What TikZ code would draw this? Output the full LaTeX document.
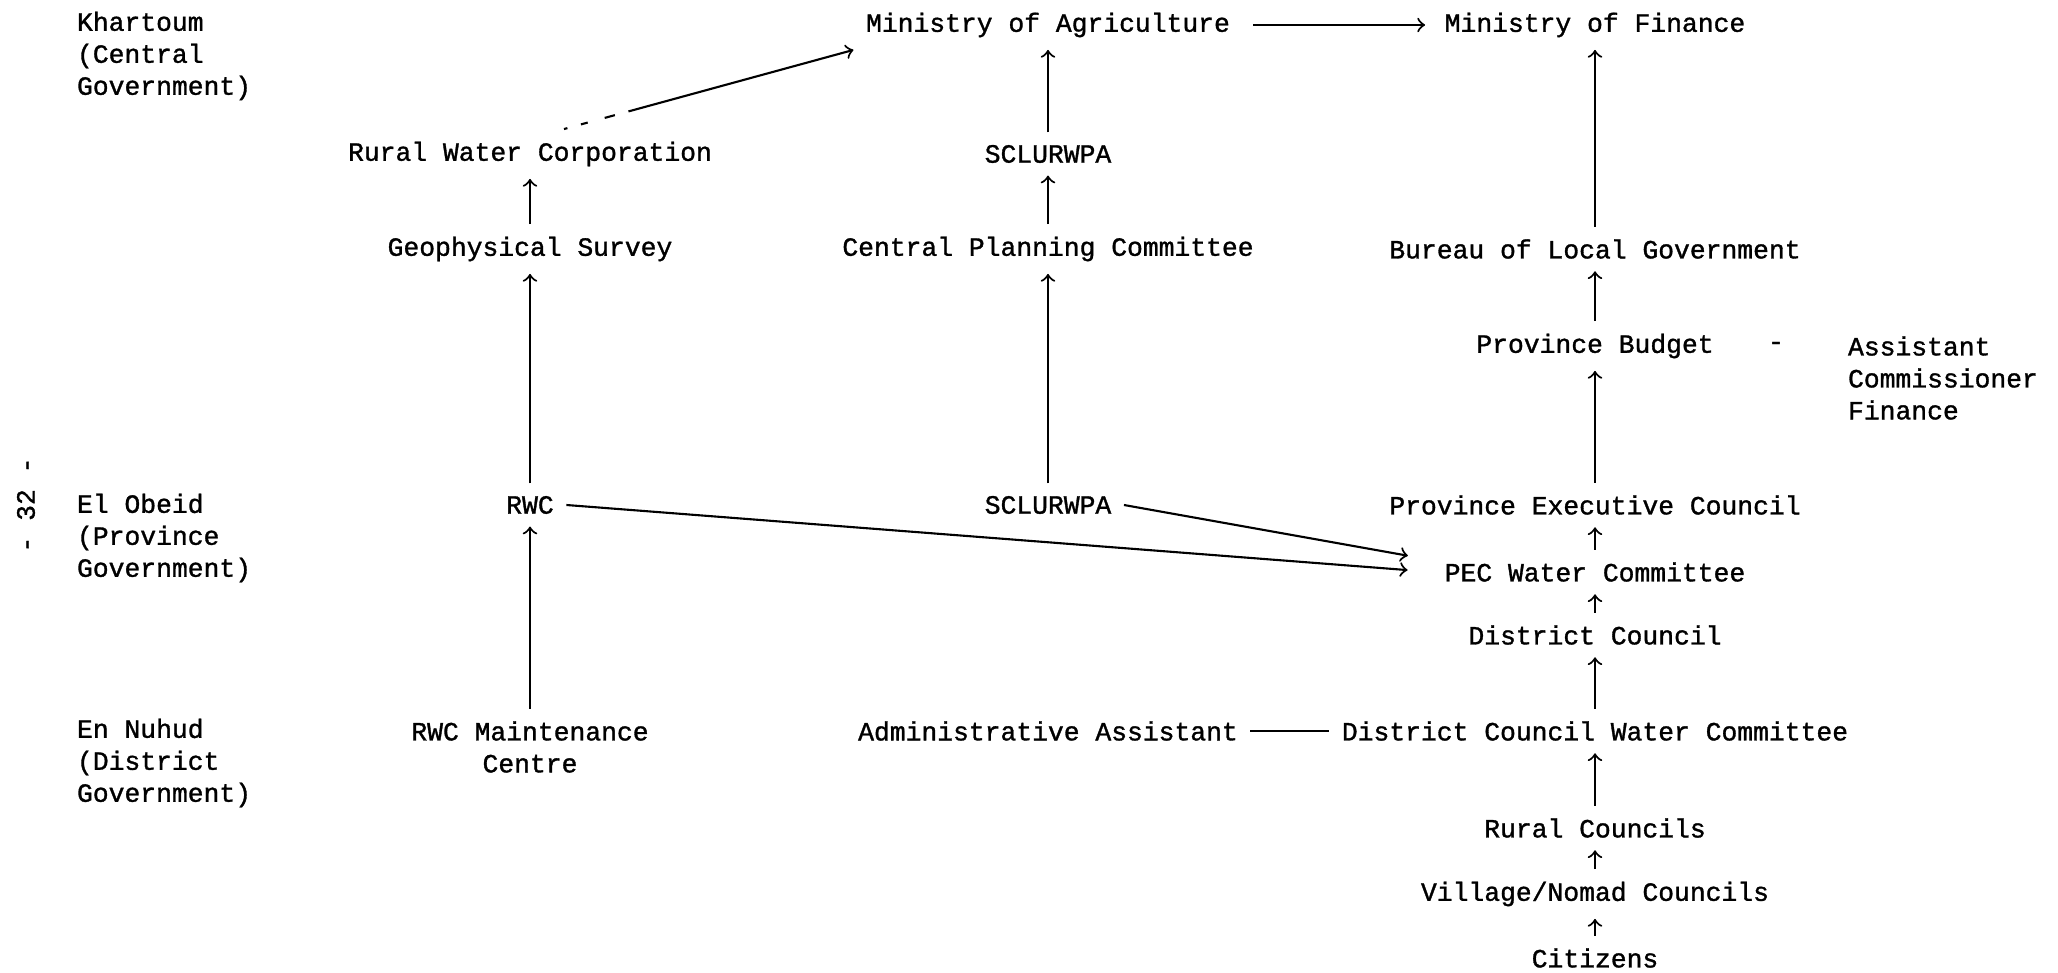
\documentclass[tikz,border=0pt]{standalone}
\usepackage{fontspec}
\setmonofont[FakeBold=1.2]{Liberation Mono}
\usetikzlibrary{arrows}

\begin{document}
\begin{tikzpicture} [font=\ttfamily\fontsize{7.5}{9.1}\selectfont, line width=0.6pt, inner sep=3.3pt]
 \useasboundingbox (0,0) rectangle (20.58,9.73);
 \node (pagenum) at (0.26,4.68) [rotate=90] {- 32 -};
 \node (khartoum) at (0.76,9.17) [anchor=west, align=left, inner sep=0pt] {Khartoum\\(Central\\Government)};
 \node (elobeid) at (0.76,4.35) [anchor=west, align=left, inner sep=0pt] {El Obeid\\(Province\\Government)};
 \node (ennuhud) at (0.76,2.10) [anchor=west, align=left, inner sep=0pt] {En Nuhud\\(District\\Government)};
 \node (magri) at (10.48,9.48) {Ministry of Agriculture};
 \node (mfin) at (15.95,9.48) {Ministry of Finance};
 \node (rwcorp) at (5.30,8.19) {Rural Water Corporation};
 \node (sclutop) at (10.48,8.19) {SCLURWPA};
 \node (geo) at (5.30,7.24) {Geophysical Survey};
 \node (cpc) at (10.48,7.24) {Central Planning Committee};
 \node (blg) at (15.95,7.24) {Bureau of Local Government};
 \node (pbudget) at (15.95,6.27) {Province Budget};
 \node (dash) at (17.76,6.27) {-};
 \node (acf) at (18.47,5.95) [anchor=west, align=left, inner sep=0pt] {Assistant\\Commissioner\\Finance};
 \node (rwc) at (5.30,4.68) {RWC};
 \node (sclumid) at (10.48,4.68) {SCLURWPA};
 \node (pec) at (15.95,4.68) {Province Executive Council};
 \node (pecwc) at (15.95,4.01) {PEC Water Committee};
 \node (dc) at (15.95,3.38) {District Council};
 \node (rwcmc) at (5.30,2.26) [align=center] {RWC Maintenance\\Centre};
 \node (admin) at (10.48,2.42) {Administrative Assistant};
 \node (dcwc) at (15.95,2.42) {District Council Water Committee};
 \node (rc) at (15.95,1.45) {Rural Councils};
 \node (vnc) at (15.95,0.79) {Village/Nomad Councils};
 \node (cit) at (15.95,0.15) {Citizens};
 \draw [->] ([xshift=3pt]magri.east) -- ([xshift=-2pt]mfin.west);
 \draw [->, dash pattern=on 1pt off 4pt on 2pt off 5pt on 3pt off 4pt on 120pt] ([xshift=0.34cm]rwcorp.north) -- (magri.south west);
 \draw [->] (sclutop) -- (magri);
 \draw [->] (cpc) -- (sclutop);
 \draw [->] (sclumid) -- (cpc);
 \draw [->] (geo) -- (rwcorp);
 \draw [->] (rwc) -- (geo);
 \draw [->] (rwcmc) -- (rwc);
 \draw [->] (blg) -- (mfin);
 \draw [->] (pbudget) -- (blg);
 \draw [->] (pec) -- (pbudget);
 \draw [->] (pecwc) -- (pec);
 \draw [->] (dc) -- (pecwc);
 \draw [->] (dcwc) -- (dc);
 \draw [->] (rc) -- (dcwc);
 \draw [->] (vnc) -- (rc);
 \draw [->] (cit) -- (vnc);
 \draw (admin) -- (dcwc);
 \draw [->, shorten >=7pt] (rwc.east) -- (pecwc.west);
 \draw [->, shorten >=7pt] (sclumid.east) -- ([yshift=3.4pt]pecwc.west);
\end{tikzpicture}
\end{document}
